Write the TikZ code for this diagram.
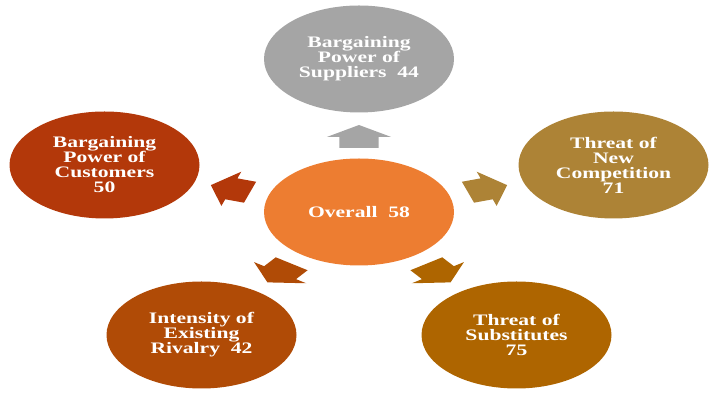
\documentclass[tikz,border=0pt]{standalone}
\usepackage{fontspec}
\setmainfont{Liberation Serif}
\newfontfamily\labelfont[FakeStretch=1.35]{Liberation Serif}
\usetikzlibrary{shapes.geometric}

\definecolor{supgray}{HTML}{A5A5A5}
\definecolor{overallorange}{HTML}{ED7D31}
\definecolor{custred}{HTML}{B3380A}
\definecolor{newgold}{HTML}{AD8336}
\definecolor{rivbrown}{HTML}{B04B06}
\definecolor{subsamber}{HTML}{AE6500}

\begin{document}
\begin{tikzpicture}[x=1pt,y=1pt,
  force/.style={ellipse, minimum width=190pt, minimum height=107pt,
    inner sep=0pt, text=white, align=center,
    font=\labelfont\bfseries\fontsize{16}{15}\selectfont},
  blockarrow/.style={fill=#1, draw=none}]
\useasboundingbox (0,0) rectangle (712,398);

% centre and the five forces
\node[force, fill=overallorange] (overall) at (359,186) {Overall\ \ 58};
\node[force, fill=supgray]   (sup)  at (359,339)   {Bargaining\\Power of\\Suppliers\ \ 44};
\node[force, fill=custred]   (cust) at (104.5,233) {Bargaining\\Power of\\Customers\\50};
\node[force, fill=newgold]   (newc) at (613.5,233) {Threat of\\New\\Competition\\71};
\node[force, fill=rivbrown]  (riv)  at (201.5,63)  {Intensity of\\Existing\\Rivalry\ \ 42};
\node[force, fill=subsamber] (subs) at (516.5,63)  {Threat of\\Substitutes\\75};

% block arrows radiating from the centre towards each force
\foreach \ang/\col in {90/supgray, 18/newgold, -54/subsamber, -126/rivbrown, 162/custred}
  \fill[blockarrow=\col, shift={(overall.center)}, xscale=1.79, rotate=\ang]
    (64,-11) -- (75,-11) -- (75,-18) -- (87,0) -- (75,18) -- (75,11) -- (64,11) -- cycle;
\end{tikzpicture}
\end{document}
